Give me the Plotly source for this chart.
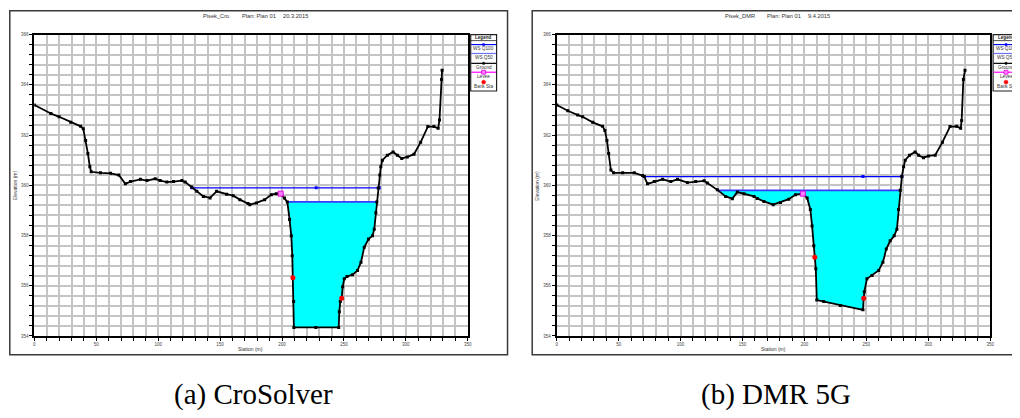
import plotly.graph_objects as go
import numpy as np

# ---------------- data ----------------
station_a = [0, 13.3, 20, 29.3, 37.4, 39.5, 41.4, 43.2, 44.8, 45.9, 53.4, 61.5, 68.2, 73.5, 77.6,
             85.6, 91.0, 97.6, 101.6, 107.0, 112.4, 119.1, 121.8, 127.1, 131.2, 136.5, 141.9, 147.2,
             155.3, 160.6, 166.0, 172.6, 174.0, 179.4, 186.0, 191.4, 195.4, 198.9, 202.0, 204.3,
             206.1, 207.5, 208.3, 208.8, 209.4, 209.6, 227.3, 245.8, 246.3, 247.1, 248.2, 249.0,
             250.3, 252.5, 257.0, 261.0, 263.8, 266.4, 269.9, 273.1, 274.5, 275.8, 276.6, 277.7,
             279.0, 279.8, 281.1, 285.1, 289.7, 293.2, 296.7, 301.2, 306.6, 312.0, 317.8, 322.7,
             326.1, 327.2, 328.8, 329.3]
elev_a = [363.20, 362.86, 362.73, 362.51, 362.35, 362.25, 361.79, 361.27, 360.74, 360.54, 360.50,
          360.48, 360.41, 360.06, 360.15, 360.24, 360.19, 360.26, 360.19, 360.13, 360.15, 360.19,
          360.13, 359.93, 359.76, 359.56, 359.50, 359.76, 359.65, 359.59, 359.43, 359.28, 359.23,
          359.30, 359.43, 359.63, 359.67, 359.67, 359.50, 359.34, 358.64, 357.99, 357.20, 356.32,
          355.37, 354.34, 354.34, 354.34, 354.97, 355.37, 355.50, 355.96, 356.28, 356.37, 356.44,
          356.61, 356.94, 357.53, 357.86, 357.99, 358.25, 358.91, 359.34, 359.89, 360.41, 360.74,
          361.00, 361.20, 361.33, 361.20, 361.07, 361.13, 361.24, 361.72, 362.34, 362.34, 362.27,
          362.60, 364.22, 364.58]

station_b = [0, 8.9, 16.9, 20.9, 29.0, 37.0, 38.9, 40.5, 41.9, 43.7, 45.9, 53.2, 62.6, 69.3, 70.6,
             73.3, 78.7, 85.4, 92.1, 97.5, 105.5, 112.2, 119.0, 121.6, 129.7, 136.4, 141.8, 145.8,
             151.2, 159.3, 161.9, 167.3, 174.8, 180.7, 187.4, 192.8, 198.7, 202.2, 204.8, 206.2,
             207.6, 208.4, 209.2, 210.0, 215.6, 229.0, 247.3, 247.9, 248.4, 250.5, 254.6, 260.0,
             263.4, 266.1, 269.3, 272.5, 274.7, 276.0, 277.4, 278.7, 280.1, 281.4, 284.9, 289.4,
             292.2, 296.2, 300.2, 305.6, 311.5, 317.6, 323.0, 326.2, 327.0, 328.4, 329.7]
elev_b = [363.20, 362.97, 362.80, 362.73, 362.51, 362.35, 362.18, 361.79, 361.27, 360.61, 360.50,
          360.50, 360.50, 360.39, 360.35, 360.06, 360.15, 360.24, 360.15, 360.24, 360.11, 360.15,
          360.18, 360.09, 359.82, 359.56, 359.47, 359.73, 359.67, 359.56, 359.48, 359.36, 359.23,
          359.32, 359.45, 359.63, 359.67, 359.50, 359.04, 358.38, 357.59, 357.14, 356.68, 355.43,
          355.37, 355.21, 355.04, 355.50, 355.76, 356.28, 356.41, 356.61, 356.94, 357.46, 357.79,
          357.99, 358.25, 359.04, 359.80, 360.35, 360.74, 361.00, 361.20, 361.33, 361.20, 361.10,
          361.17, 361.20, 361.72, 362.34, 362.35, 362.27, 362.58, 364.22, 364.58]

# water surfaces: stations where line is drawn, elevation
ws100_st_a = [127.1, 227.6, 278.5]
ws100_a = 359.90
ws50_st_a = [204.3, 276.6]
ws50_a = 359.34

ws100_st_b = [70.6, 247.3, 278.7]
ws100_b = 360.35
ws50_st_b = [129.7, 277.4]
ws50_b = 359.80

levee_a = (198.9, 359.67)
levee_b = (198.7, 359.67)
bank_st_a = [208.8, 248.2]
bank_el_a = [356.32, 355.50]
bank_st_b = [208.4, 247.9]
bank_el_b = [357.14, 355.50]

titles_a = ["Pisek_Cro", "Plan: Plan 01", "20.3.2015"]
titles_b = ["Pisek_DMR", "Plan: Plan 01", "9.4.2015"]
captions = ["(a) CroSolver", "(b) DMR 5G"]
legend_labels = ["WS Q100", "WS Q50", "Ground", "Levee", "Bank Sta"]

# ---------------- layout helpers ----------------
# the page body has an 8px margin, so the figure is placed at (8, 8)
OFF = 8
W, H = 1020 - OFF, 418 - OFF
def PX(x): return (x - OFF) / W
def PY(y): return 1 - (y - OFF) / H

GRID = "#c4c4c4"
SANS = "Liberation Sans"
C100 = "#0000ff"
C50 = "#3a3aff"

fig = go.Figure()
shapes = []
annots = []

def note(text, x, y, size, color="#333", family=SANS, xanchor="center", angle=0):
    annots.append(dict(text=text, x=PX(x), y=PY(y), xref="paper", yref="paper",
                       xanchor=xanchor, yanchor="middle", showarrow=False, textangle=angle,
                       font=dict(family=family, size=size, color=color)))

panels = [
    dict(st=station_a, el=elev_a, w1=ws100_st_a, e1=ws100_a, w5=ws50_st_a, e5=ws50_a,
         lv=levee_a, bs=bank_st_a, be=bank_el_a, dx=0, title=titles_a, tx=[201, 240, 281],
         cap=captions[0], capx=254, xa="x", ya="y"),
    dict(st=station_b, el=elev_b, w1=ws100_st_b, e1=ws100_b, w5=ws50_st_b, e5=ws50_b,
         lv=levee_b, bs=bank_st_b, be=bank_el_b, dx=525, title=titles_b, tx=[726, 768, 809],
         cap=captions[1], capx=779, xa="x2", ya="y2"),
]

for p in panels:
    st = np.array(p["st"]); el = np.array(p["el"])
    xa, ya = p["xa"], p["ya"]
    # water fill polygon (Q50)
    l, r = p["w5"]
    m = (st > l) & (st < r)
    px_ = [l, r] + list(st[m][::-1])
    py_ = [p["e5"], p["e5"]] + list(el[m][::-1])
    fig.add_trace(go.Scatter(x=px_, y=py_, fill="toself", fillcolor="#00ffff", mode="none",
                             xaxis=xa, yaxis=ya, showlegend=False, hoverinfo="skip"))
    fig.add_trace(go.Scatter(x=p["w5"], y=[p["e5"]] * len(p["w5"]), mode="lines",
                             line=dict(color=C50, width=1.6), xaxis=xa, yaxis=ya, showlegend=False))
    fig.add_trace(go.Scatter(x=p["w1"], y=[p["e1"]] * len(p["w1"]), mode="lines+markers",
                             line=dict(color=C100, width=1.3),
                             marker=dict(symbol="square", size=3, color=C100),
                             xaxis=xa, yaxis=ya, showlegend=False))
    fig.add_trace(go.Scatter(x=st, y=el, mode="lines+markers",
                             line=dict(color="black", width=1.8),
                             marker=dict(symbol="square", size=3, color="black"),
                             xaxis=xa, yaxis=ya, showlegend=False))
    fig.add_trace(go.Scatter(x=[p["lv"][0]], y=[p["lv"][1]], mode="markers",
                             marker=dict(symbol="square", size=5, color="#ff80ff",
                                         line=dict(color="#e000e0", width=1)),
                             xaxis=xa, yaxis=ya, showlegend=False))
    fig.add_trace(go.Scatter(x=p["bs"], y=p["be"], mode="markers",
                             marker=dict(symbol="circle", size=5, color="#ff0000"),
                             xaxis=xa, yaxis=ya, showlegend=False))

    dx = p["dx"]
    # panel frame
    shapes.append(dict(type="rect", xref="paper", yref="paper", x0=PX(8.8 + dx), x1=PX(509 + dx),
                       y0=PY(357), y1=PY(8.8), line=dict(color="#3a3a3a", width=1.5), layer="below"))
    # title segments
    for t, x in zip(p["title"], p["tx"]):
        note(t, x, 14, 5.7, xanchor="left")
    # axis titles
    note("Elevation (m)", 14 + dx, 185.5, 5, angle=-90)
    note("Station (m)", 251 + dx, 351.5, 5)
    # caption
    note(p["cap"], p["capx"], 397.5, 29, color="black", family="Liberation Serif")

    # custom legend
    x0, x1 = 472 + dx, 498 + dx
    xc = (x0 + x1) / 2
    shapes.append(dict(type="rect", xref="paper", yref="paper", x0=PX(x0), x1=PX(x1), y0=PY(90), y1=PY(33),
                       line=dict(color="#222", width=1.2), fillcolor="white"))
    shapes.append(dict(type="line", xref="paper", yref="paper", x0=PX(x0), x1=PX(x1), y0=PY(39), y1=PY(39),
                       line=dict(color="#222", width=0.8)))
    note("<b>Legend</b>", xc, 36, 4.6, color="#222")
    rows = [(43, C100, "sq"), (52, "#7070ff", None), (62, "black", "sq"), (71, "#ff00ff", "lev"), (81, None, "dot")]
    for (yy, col, mk), lab in zip(rows, legend_labels):
        if col:
            shapes.append(dict(type="line", xref="paper", yref="paper", x0=PX(x0 + 0.5), x1=PX(x1 - 0.5),
                               y0=PY(yy), y1=PY(yy), line=dict(color=col, width=1.2)))
        if mk == "sq":
            shapes.append(dict(type="rect", xref="paper", yref="paper", x0=PX(xc - 1), x1=PX(xc + 1),
                               y0=PY(yy + 1), y1=PY(yy - 1), line=dict(color=col, width=0.5), fillcolor=col))
        elif mk == "lev":
            shapes.append(dict(type="rect", xref="paper", yref="paper", x0=PX(xc - 2), x1=PX(xc + 2),
                               y0=PY(yy + 2), y1=PY(yy - 2), line=dict(color="#e000e0", width=0.8),
                               fillcolor="#ff80ff"))
        elif mk == "dot":
            shapes.append(dict(type="circle", xref="paper", yref="paper", x0=PX(xc - 2), x1=PX(xc + 2),
                               y0=PY(yy + 2), y1=PY(yy - 2), line=dict(color="#ff0000", width=0.5),
                               fillcolor="#ff0000"))
        note(lab, xc, yy + 4, 4.7)

def xaxis(dom, anchor):
    return dict(domain=dom, anchor=anchor, range=[0, 350], tick0=0, dtick=50, showgrid=True,
                gridcolor=GRID, gridwidth=1.5, zeroline=False, showline=True, linecolor="black",
                linewidth=2, mirror=True, ticks="outside", ticklen=3, tickcolor="black", tickwidth=1,
                tickfont=dict(family=SANS, size=4.5, color="#444"),
                minor=dict(dtick=10, tick0=0, showgrid=True, gridcolor=GRID, gridwidth=1.5,
                           ticks="outside", ticklen=3, tickcolor="black"))

def yaxis(anchor):
    return dict(domain=[PY(338), PY(33)], anchor=anchor, range=[354, 366], tick0=354, dtick=2,
                showgrid=True, gridcolor=GRID, gridwidth=1.5, zeroline=False, showline=True,
                linecolor="black", linewidth=2, mirror=True, ticks="outside", ticklen=3,
                tickcolor="black", tickwidth=1, tickfont=dict(family=SANS, size=4.5, color="#444"),
                minor=dict(dtick=0.4, tick0=354, showgrid=True, gridcolor=GRID, gridwidth=1.5,
                           ticks="outside", ticklen=3, tickcolor="black"))

fig.update_layout(
    width=W, height=H, margin=dict(l=0, r=0, t=0, b=0),
    paper_bgcolor="white", plot_bgcolor="white", showlegend=False,
    xaxis=xaxis([PX(33.5), PX(469)], "y"),
    yaxis=yaxis("x"),
    xaxis2=xaxis([PX(558.5), PX(994)], "y2"),
    yaxis2=yaxis("x2"),
    shapes=shapes, annotations=annots,
)

fig.write_html("out.html")
